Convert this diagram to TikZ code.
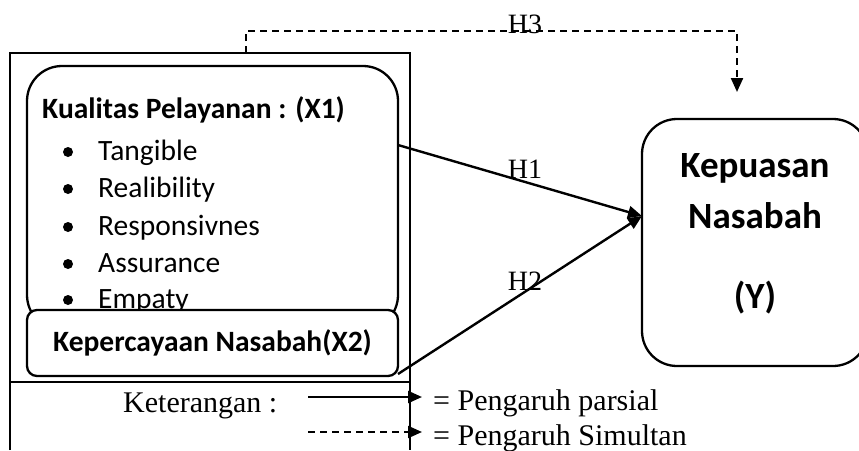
\documentclass[tikz,border=0pt]{standalone}
\usepackage{fontspec}
\setmainfont{Liberation Serif}
\newfontfamily\calfont{Carlito}
\usetikzlibrary{arrows.meta}
\tikzset{
  boxline/.style={line width=2.3pt},
  tip/.style={-{Triangle[length=14pt,width=12pt]}},
  conn/.style={line width=2.4pt, tip},
  dconn/.style={line width=2.2pt, dash pattern=on 7pt off 5pt, tip},
  itemtxt/.style={anchor=base west, inner sep=0pt, font=\calfont\fontsize{29.5}{29.5}\selectfont},
  hlabel/.style={anchor=base, inner sep=0pt, font=\fontsize{28}{28}\selectfont},
  legtxt/.style={anchor=base west, inner sep=0pt, font=\fontsize{30}{30}\selectfont},
}
\begin{document}
\begin{tikzpicture}[x=1pt,y=-1pt]
\useasboundingbox (0,0) rectangle (859,450);
% outer frame
\draw[line width=1.8pt] (10,450) -- (10,53) -- (410,53) -- (410,450);
\draw[line width=1.8pt] (10,382) -- (410,382);
\coordinate (h3s) at (246,53);
% X1 box
\draw[boxline, rounded corners=35pt] (27,330) -- (27,66) -- (398,66) -- (398,330) -- cycle;
\node (x1) at (212.5,198) [minimum width=371pt, minimum height=264pt, inner sep=0pt] {};
\node[itemtxt, font=\calfont\bfseries\fontsize{29.5}{29.5}\selectfont] (x1t) at (42,118) {Kualitas Pelayanan : (X1)};
\foreach \yy/\txt/\nm in {160/Tangible/a,197/Realibility/b,235/Responsivnes/c,272/Assurance/d,308/Empaty/e}{
  \fill (68,\yy-8) circle (5pt);
  \node[itemtxt] (it\nm) at (98,\yy) {\txt};
}
% X2 box
\node[boxline, draw, fill=white, rounded corners=10pt, minimum width=371pt, minimum height=66pt, inner sep=0pt,
  font=\calfont\bfseries\fontsize{29.5}{29.5}\selectfont] (x2) at (212.5,343) {Kepercayaan Nasabah(X2)};
% Y box
\draw[boxline, rounded corners=35pt] (642,119) rectangle (868,366);
\node (ybox) at (755,242.5) [minimum width=226pt, minimum height=247pt, inner sep=0pt] {};
\node[anchor=base, inner sep=0pt, font=\calfont\bfseries\fontsize{37}{37}\selectfont] (y1) at (755,177) {Kepuasan};
\node[anchor=base, inner sep=0pt, font=\calfont\bfseries\fontsize{37}{37}\selectfont] (y2) at (755,228) {Nasabah};
\node[anchor=base, inner sep=0pt, font=\calfont\bfseries\fontsize{37}{37}\selectfont] (y3) at (755,308) {(Y)};
% connectors
\coordinate (x1out) at (398,145);
\coordinate (x2out) at (398,374);
\coordinate (yin) at (642,216);
\draw[conn] (x1out) -- (yin);
\draw[conn] (x2out) -- (yin);
\coordinate (h3tip) at (737,92);
\draw[dconn] (h3s) -- (246,31) -- (737,31) -- (h3tip);
\node[hlabel] (h1) at (525,178) {H1};
\node[hlabel] (h2) at (525,290) {H2};
\node[hlabel] (h3) at (525,33) {H3};
% legend
\node[legtxt] (ket) at (123,412) {Keterangan :};
\coordinate (la1) at (308,397);
\coordinate (la2) at (422,397);
\coordinate (lb1) at (308,432);
\coordinate (lb2) at (422,432);
\draw[conn] (la1) -- (la2);
\draw[dconn] (lb1) -- (lb2);
\node[legtxt] (lp) at (433,410) {= Pengaruh parsial};
\node[legtxt] (ls) at (433,445) {= Pengaruh Simultan};
\end{tikzpicture}
\end{document}
